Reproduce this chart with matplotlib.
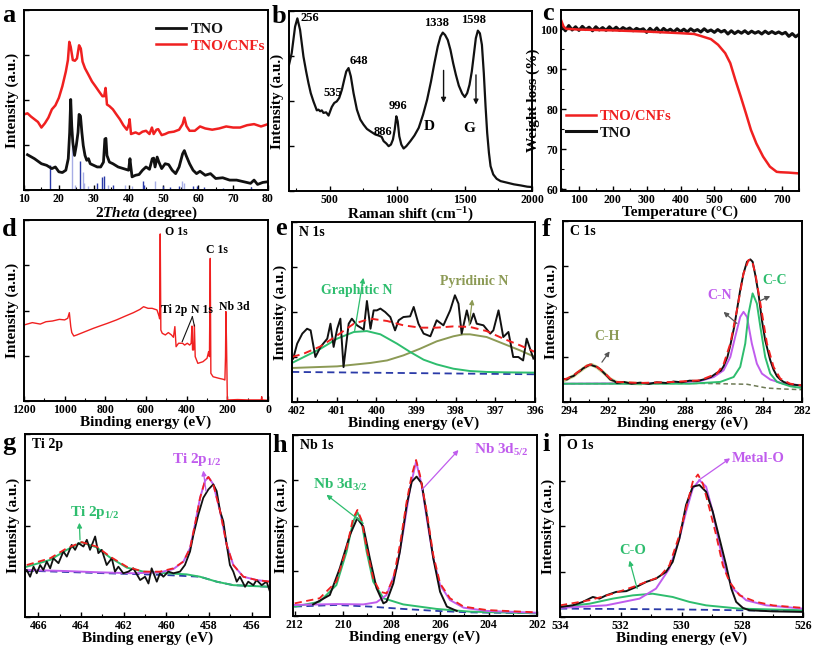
import numpy as np
import matplotlib
matplotlib.use('Agg')
import matplotlib.pyplot as plt
from matplotlib.ticker import MultipleLocator, NullFormatter

plt.rcParams['font.family'] = ['Liberation Serif', 'DejaVu Serif']
plt.rcParams['font.weight'] = 'bold'
plt.rcParams['axes.labelweight'] = 'bold'
plt.rcParams['mathtext.fontset'] = 'custom'
plt.rcParams['mathtext.rm'] = 'Liberation Serif:bold'
plt.rcParams['mathtext.it'] = 'Liberation Serif:italic:bold'
plt.rcParams['mathtext.bf'] = 'Liberation Serif:bold'

# ---------------- (a) XRD ----------------
xrd_tno_x = [11, 13, 15, 16.5, 18, 19, 20, 21, 22, 22.7, 23.1, 23.4, 23.7, 24.0, 24.5, 25.0, 25.5, 25.8, 26.2, 26.6,
             27.0, 27.5, 28, 28.5, 29, 30, 31, 32, 32.8, 33.2, 33.5, 33.8, 34.5, 35.5, 37, 38.5, 40, 40.4, 40.6, 41,
             42, 43, 44, 45, 46, 46.8, 47.2, 47.6, 48.2, 48.7, 49.5, 50.5, 51.5, 52.5, 53.5, 54.5, 55.5, 56, 56.5,
             57.5, 58.5, 59.5, 60.5, 62, 63.5, 65, 67, 69, 71, 73, 75, 76, 77, 78.5, 80]
xrd_tno_y = [19.6, 17.4, 14.6, 13.7, 11.9, 12.8, 10.1, 9.7, 11.0, 17.4, 32, 50.3, 35.6, 26.5, 19.2, 24.7, 32, 42, 41.1, 32,
             24.7, 19.2, 16.5, 17.4, 14.6, 13.7, 12.8, 12.8, 15.5, 28.3, 28.7, 19.2, 15.5, 14.6, 12.8, 11.9, 11, 17.4, 13.7, 7.3,
             8.2, 8.6, 11, 12.8, 11.5, 17.4, 17.7, 12.8, 18.3, 15.5, 11.9, 14.6, 14.1, 11, 9.1, 12.8, 20.1, 21.9, 19.2,
             14.6, 11, 9.1, 10.4, 8.2, 9.1, 6.4, 6.8, 5.5, 5.5, 4.6, 3.7, 5.5, 3.1, 4.2, 4.6]
xrd_cnf_x = [10, 11, 12, 13, 14, 15, 16, 17, 18, 19, 20, 21, 22, 22.6, 23.0, 23.4, 24.0, 24.6, 25.2, 25.8, 26.3, 26.8,
             27.5, 28.5, 29.5, 30.5, 31.5, 32.5, 33.0, 33.4, 33.8, 34.5, 35.5, 36.5, 37.5, 38.5, 39.5, 40.1, 40.3, 40.7,
             42, 43, 44, 45, 46, 46.7, 47.2, 48, 48.5, 49.5, 50.5, 51.5, 53, 54.5, 55.5, 56, 56.6, 57.5, 59, 60.5, 62,
             64, 66, 68, 70, 72, 74, 76, 78, 80]
xrd_cnf_y = [42, 42.6, 40.8, 39.3, 37.8, 34.7, 37.1, 40.2, 44.8, 47, 51.2, 57.6, 65.8, 72.2, 82.3, 79.5, 72.2, 71.8, 73.1,
             80.4, 78.6, 71.3, 67.6, 64, 60.3, 57.6, 54.8, 52.1, 52.1, 56.7, 47.5, 46.6, 44.8, 42, 39.3, 36, 33.5, 36.6,
             39.3, 31.1, 32, 31.1, 32.4, 32.9, 31.1, 34.7, 31.1, 33.5, 33.8, 30.5, 31.1, 32, 32.4, 33.5, 36.6, 40.2, 35.6,
             32.9, 32.9, 35.3, 34.2, 33.5, 34.2, 35.3, 34.7, 34.7, 36, 36.6, 35.3, 36.6]
ref_pos = [17.5, 23.9, 24.5, 26.1, 26.8, 27.3, 28.5, 31.0, 32.3, 32.9, 34.0, 35.5, 39.0, 41.0, 44.0, 44.5, 47.7, 50.0,
           52.0, 54.5, 55.3, 55.8, 58.5, 59.5, 61.5, 67.0, 75.0]
ref_h = [14, 26, 3, 16, 10, 4, 2, 4, 7, 8, 3, 3, 3, 2, 5, 3, 5, 2, 1.5, 2, 5, 4, 2, 2, 1.5, 1, 1.5]
ref_kind = ['b', 'l', 'l', 'b', 'l', 'l', 'l', 'b', 'b', 'b', 'l', 'b', 'l', 'l', 'b', 'b', 'l', 'b', 'b', 'b', 'l', 'l',
            'b', 'b', 'b', 'b', 'b']

# ---------------- (b) Raman ----------------
raman_x = [200, 220, 245, 262, 282, 307, 327, 344, 361, 381, 406, 418, 431, 443, 455, 475, 493, 505, 517, 535, 554, 572,
           592, 609, 624, 641, 658, 678, 703, 728, 752, 777, 802, 839, 864, 886, 901, 921, 938, 955, 970, 983, 995, 1005,
           1017, 1032, 1049, 1069, 1099, 1129, 1161, 1193, 1223, 1252, 1277, 1302, 1322, 1339, 1356, 1376, 1396, 1416,
           1436, 1458, 1483, 1502, 1520, 1537, 1554, 1569, 1584, 1599, 1614, 1629, 1643, 1656, 1668, 1681, 1693, 1713,
           1738, 1767, 1817, 1866, 1916, 1965, 2000]
raman_y = [70.1, 76.6, 91.3, 95.9, 89.5, 74.7, 66.4, 60, 54.4, 49.8, 44.8, 45.2, 44.3, 44.8, 43.4, 43.7, 41.9, 44.3, 46.7,
           48.9, 49.8, 51.7, 56.3, 61.8, 66.4, 68.3, 63.7, 54.4, 45.2, 39.7, 36.9, 34.5, 33.2, 31.4, 30.8, 30.1, 27.7, 26.4,
           24.9, 25.8, 28.6, 34.1, 41.5, 38.7, 30.4, 25.8, 23.6, 24.9, 27.7, 30.8, 35.1, 42.4, 50.7, 60.9, 71, 80.3, 85.8,
           88, 86.7, 83.9, 78.4, 71, 64.6, 58.5, 54.1, 52.2, 54.4, 59, 66.4, 75.6, 84.9, 89.1, 87.6, 81.2, 65.5, 47, 32.3,
           21.2, 13.8, 9.2, 6.8, 5.5, 4.6, 3.7, 3.1, 2.4, 2.2]

# ---------------- (c) TGA ----------------
tga_cnf_x = [47, 50, 55, 62, 100, 200, 300, 400, 440, 460, 490, 511, 532, 547, 562, 578, 593, 608, 624, 644, 664, 684,
             695, 720, 750]
tga_cnf_y = [102.3, 101.6, 100.6, 100.1, 99.9, 99.7, 99.4, 99.0, 98.8, 98.3, 97.5, 96.1, 94, 91.5, 87.3, 83.1, 79, 74.8,
             71.4, 68.1, 65.6, 64.3, 64.2, 64.1, 63.9]
tga_tno_x = list(range(50, 751, 10))
tga_tno_y = [100.8, 99.6, 100.9, 99.8, 100.6, 99.7, 100.7, 99.9, 100.5, 99.6, 100.6, 99.8, 100.4, 99.7, 100.6, 99.8,
             100.5, 99.7, 100.4, 99.9, 100.3, 99.6, 100.2, 99.8, 100.1, 99.2, 100.2, 99.4, 100.3, 99.3, 100.2, 99.5,
             100.0, 99.3, 100.1, 99.4, 100.0, 99.3, 100.1, 99.5, 99.9, 99.3, 100.1, 99.4, 99.8, 99.2, 99.9, 99.3, 99.7,
             98.8, 99.6, 98.9, 99.5, 99.0, 99.6, 98.9, 99.5, 99.0, 99.4, 98.8, 99.5, 98.9, 99.4, 98.9, 99.3, 98.8, 99.2,
             98.2, 98.9, 98.1, 98.7]

# ---------------- (d) XPS survey ----------------
surv_x = [1200, 1159, 1120, 1092, 1060, 1026, 1000, 985, 977, 970, 965, 955, 940, 900, 860, 828, 790, 745, 700, 662, 630,
          612, 590, 570, 546, 535, 533, 530, 527, 520, 505, 490, 475, 465, 458, 452, 440, 420, 410, 397, 385, 378, 374,
          371, 366, 362, 358, 345, 320, 300, 292, 288, 284, 281, 270, 240, 220, 212, 209, 207, 204, 202, 200, 190, 150,
          100, 50, 33, 31, 29, 0]
surv_y = [42, 43.3, 42.5, 43.8, 44.2, 45.1, 44.8, 45.7, 48.8, 41.1, 37.8, 35.9, 36.5, 38.3, 40.1, 41.4, 42.9, 44.8, 47,
          48.8, 50.6, 52.1, 51.2, 51.2, 50.3, 46.6, 45.4, 92.3, 39.2, 37.4, 36.5, 37.8, 36.5, 35.2, 41.1, 30, 31.9, 31.9,
          30.9, 31.9, 30.9, 31.9, 41.4, 28.2, 28.2, 42, 24.5, 20.8, 21.7, 23.6, 27.3, 24.5, 78.8, 15.3, 13.4, 12.5, 12,
          11.6, 24.5, 49.4, 31.9, 17, 0.6, 0.6, 0.8, 0.6, 0.6, 0.6, 2.4, 0.6, 0.4]

# ---------------- (e) N 1s ----------------
n_raw_x = [402.10, 402.00, 401.87, 401.75, 401.66, 401.54, 401.41, 401.24, 401.16, 401.08, 400.99, 400.91, 400.83, 400.70,
           400.62, 400.49, 400.32, 400.24, 400.15, 400.07, 399.99, 399.90, 399.78, 399.65, 399.53, 399.44, 399.32, 399.15,
           399.06, 398.94, 398.81, 398.64, 398.48, 398.31, 398.14, 398.02, 397.93, 397.85, 397.72, 397.64, 397.55, 397.47,
           397.30, 397.13, 397.05, 396.92, 396.80, 396.67, 396.55, 396.42, 396.30, 396.21, 396.04]
n_raw_y = [24.1, 32.4, 38, 40.7, 39.8, 25, 30.6, 35.2, 43.5, 30.6, 40.7, 46.3, 19.4, 43.5, 46.3, 42.6, 40.2, 56.1, 40.7,
           50.9, 50.9, 51.9, 50, 47.2, 39.8, 45.4, 47.2, 47.6, 52.8, 43.5, 38, 36.5, 45.4, 42.6, 50.9, 59.3, 54.6, 38, 50.9,
           43.5, 49.1, 43.5, 42.6, 38, 39.8, 50.9, 36.1, 38.9, 25, 25, 23.1, 35.2, 24.1]
n_gra_x = [402.13, 401.83, 401.41, 400.99, 400.57, 400.24, 399.90, 399.48, 399.15, 398.81, 398.48, 398.06, 397.64, 397.22,
           396.80, 396.00]
n_gra_y = [21.7, 25, 29.6, 35.2, 38.9, 39.4, 37.6, 32.4, 27.8, 23.5, 20.9, 18.5, 17.2, 16.7, 16.5, 16.3]
n_pyr_x = [402.13, 400.99, 400.15, 399.73, 399.32, 398.90, 398.48, 398.06, 397.81, 397.64, 397.22, 396.80, 396.38, 396.00]
n_pyr_y = [18.9, 19.8, 21.7, 23.1, 25.9, 29.6, 33.7, 36.5, 37.6, 37.6, 36.1, 32.4, 28.7, 25]
n_fit_x = [402.13, 401.83, 401.41, 400.99, 400.57, 400.15, 399.73, 399.32, 398.90, 398.48, 398.06, 397.64, 397.22, 396.80,
           396.38, 396.00]
n_fit_y = [25, 26.9, 30.9, 37, 43.5, 46.3, 45, 42.6, 41.3, 41.3, 42, 41.7, 39.4, 35.2, 31.5, 27.8]
n_bg_x = [402.13, 396.0]
n_bg_y = [16.7, 15.4]

# ---------------- (f) C 1s ----------------
c_fit_x = [294.34, 294.14, 293.79, 293.45, 293.10, 292.85, 292.59, 292.24, 291.90, 291.56, 290.35, 288.63, 287.25, 286.91,
           286.39, 286.05, 285.70, 285.36, 285.02, 284.76, 284.59, 284.41, 284.15, 283.81, 283.47, 283.12, 282.61, 282.0]
c_fit_y = [12.4, 12.9, 14.8, 17.5, 20.1, 20.8, 19.4, 16.6, 12.9, 11.1, 10.5, 11.1, 12, 13.5, 15.7, 20.8, 32.3, 50.7, 71,
           78.4, 78.4, 71, 54.4, 32.3, 19.4, 12.9, 10.1, 9.2]
c_raw_x = [294.34, 294.14, 293.95, 293.79, 293.62, 293.45, 293.30, 293.10, 292.95, 292.80, 292.59, 292.40, 292.24, 292.05,
           291.90, 291.70, 291.56, 291.2, 290.8, 290.35, 289.9, 289.5, 289.0, 288.63, 288.2, 287.8, 287.4, 287.0, 286.7,
           286.4, 286.2, 286.05, 285.85, 285.70, 285.5, 285.36, 285.19, 285.02, 284.84, 284.67, 284.55, 284.41, 284.25,
           284.07, 283.90, 283.64, 283.47, 283.29, 283.12, 282.95, 282.61, 282.3, 282.0]
c_raw_y = [12.9, 12.4, 13.8, 14.4, 16.1, 17.2, 18.6, 19.7, 20.7, 20.1, 19.4, 17.9, 16.2, 14.2, 12.4, 11.6, 10.5, 11.1,
           10.1, 10.7, 10, 10.9, 10.5, 11.3, 10.9, 11.8, 11.6, 12.7, 13.8, 16.1, 17.2, 19.7, 24.9, 31.4, 41.5, 50.7, 61.8,
           71, 77.5, 78.8, 77.5, 70.1, 60, 45.2, 34.1, 23.1, 17.9, 14.2, 12.4, 11.1, 9.8, 9.4, 9.0]
c_cn_x = [294.34, 288.63, 287.25, 286.56, 286.05, 285.70, 285.45, 285.19, 285.02, 284.84, 284.59, 284.33, 284.07, 283.64,
          282.95, 282.0]
c_cn_y = [10.1, 10.5, 11.6, 13.8, 17.5, 24.9, 36, 47, 49.8, 47, 32.3, 21.2, 15.7, 12.4, 10.1, 9.2]
c_cc_x = [294.34, 287.77, 286.22, 285.53, 285.19, 284.93, 284.76, 284.55, 284.33, 284.15, 283.90, 283.64, 283.29, 282.61,
          282.0]
c_cc_y = [10.1, 10.1, 11.1, 13.8, 19.4, 32.3, 48.9, 60, 54.4, 41.5, 24.9, 15.7, 11.1, 8.7, 7.7]
c_ch_x = [294.34, 293.79, 293.45, 293.10, 292.85, 292.59, 292.24, 291.90, 291.56, 290.35]
c_ch_y = [11.6, 14.4, 17.2, 19.9, 20.6, 19.2, 16.2, 12.7, 10.8, 10.1]
c_bg_x = [294.34, 287.25, 286.22, 284.84, 283.81, 283.0, 282.0]
c_bg_y = [10.1, 10.3, 10.1, 9.8, 7.7, 7.2, 6.8]

# ---------------- (g) Ti 2p ----------------
ti_fit_x = [466.55, 465.45, 464.67, 463.97, 463.27, 462.64, 461.86, 461.08, 460.30, 459.67, 459.20, 458.89, 458.66, 458.42,
            458.19, 458.03, 457.80, 457.48, 457.17, 456.86, 456.39, 455.77, 455.14]
ti_fit_y = [28.4, 32.1, 37.6, 40.9, 38.5, 33, 27.5, 24.8, 24.8, 26.6, 30.3, 37.6, 50.5, 65.1, 74.3, 76.5, 72.5, 57.8, 39.4,
            28.4, 22, 20.2, 19.3]
ti_g_x = [466.55, 465.45, 464.67, 463.97, 463.27, 462.64, 461.86, 461.08, 459.98, 459.05, 458.42, 457.64, 456.86, 455.14]
ti_g_y = [27.5, 31.2, 36.7, 40.9, 38, 32.5, 27, 24.8, 23.9, 23.3, 22, 19.3, 17.4, 16.5]
ti_p_x = [466.55, 464.67, 463.11, 461.55, 460.30, 459.67, 459.20, 458.89, 458.66, 458.42, 458.19, 458.03, 457.80, 457.48,
          457.17, 456.86, 456.39, 455.77, 455.14]
ti_p_y = [25.7, 25.1, 24.4, 23.9, 24.4, 26.2, 30.3, 37.6, 50.5, 65.1, 74.3, 76.5, 72.5, 57.8, 39.4, 28.4, 22, 20.2, 19.3]
ti_bg_x = [466.55, 463.11, 459.98, 458.42, 457.64, 456.86, 455.14]
ti_bg_y = [25.3, 24, 22.9, 22, 19.3, 17.4, 16.5]
ti_raw_x = [466.55, 466.39, 466.23, 466.08, 465.92, 465.77, 465.61, 465.45, 465.30, 465.06, 464.83, 464.67, 464.44, 464.28,
            464.13, 463.89, 463.73, 463.58, 463.34, 463.19, 463.03, 462.80, 462.56, 462.41, 462.25, 462.02, 461.78, 461.55,
            461.23, 461.00, 460.84, 460.69, 460.45, 460.30, 460.14, 459.91, 459.67, 459.36, 459.13, 458.89, 458.73, 458.50,
            458.27, 458.03, 457.80, 457.64, 457.48, 457.33, 457.17, 457.02, 456.86, 456.70, 456.55, 456.31, 456.16, 455.92,
            455.77, 455.53, 455.30, 455.14]
ti_raw_y = [25.7, 22, 27.5, 23.9, 28.4, 25.7, 30.3, 26.6, 32.1, 29.4, 35.8, 33, 39.4, 36.7, 40.4, 38.5, 42.2, 36.7, 44,
            34.9, 36.7, 28.4, 32.1, 24.8, 27.5, 23.9, 24.8, 26.6, 20.2, 22, 18.3, 26.6, 19.3, 23.9, 22, 24.8, 23.9, 24.8,
            28.4, 35.8, 45, 56, 65.1, 69.7, 72.5, 68.8, 57.8, 52.3, 39.4, 28.4, 24.8, 19.3, 22, 16.5, 19.3, 17.4, 20.2,
            17.4, 19.3, 13.8]

# ---------------- (h) Nb 3d ----------------
nb_bg_x = [212, 210.28, 208.90, 207.52, 206.14, 204.76, 202]
nb_bg_y = [5.2, 6.1, 5.2, 3.9, 2.8, 2, 1.5]
nb_p_x = [212, 210.97, 210.28, 209.17, 208.62, 208.21, 207.79, 207.52, 207.24, 206.99, 206.76, 206.55, 206.28, 206.0,
          205.59, 205.03, 204.07, 202]
nb_p_y = [6.1, 6.4, 6.6, 6.4, 7.6, 11.6, 26.3, 46.6, 70.5, 85.3, 72.4, 54, 31.9, 17.1, 8.8, 4.6, 2.8, 1.8]
nb_g_x = [212, 210.97, 210.28, 209.86, 209.59, 209.41, 209.24, 209.03, 208.76, 208.34, 207.52, 206.14, 204.76, 202]
nb_g_y = [5.2, 7.9, 17.1, 35.5, 52.1, 57.3, 52.1, 35.5, 19, 9.8, 6.4, 3.9, 2.4, 1.5]
nb_fit_x = [212, 210.97, 210.28, 209.86, 209.59, 209.41, 209.24, 209.03, 208.76, 208.48, 208.21, 207.93, 207.66, 207.38,
            207.17, 206.99, 206.83, 206.55, 206.28, 206.0, 205.59, 205.03, 204.07, 202]
nb_fit_y = [7, 9.8, 19, 37.4, 54, 58.6, 53, 37.4, 20.8, 13.4, 12.5, 20.8, 39.2, 63.2, 77.9, 86.2, 77.9, 57.6, 33.7, 18,
            9.8, 5.2, 3.3, 2]
nb_raw_x = [211.24, 210.55, 210.14, 209.72, 209.42, 209.17, 208.90, 208.62, 208.34, 208.21, 207.93, 207.66, 207.38, 207.17,
            206.97, 206.76, 206.55, 206.28, 206.0, 205.72, 205.31]
nb_raw_y = [6.4, 11.6, 26.3, 44.8, 54, 49.4, 31.9, 15.3, 7, 7.9, 18, 35.5, 61.3, 74.2, 77, 73.3, 55.8, 31.9, 13.4, 5.2,
            2.8]

# ---------------- (i) O 1s ----------------
o_bg_x = [534, 530.29, 528.09, 526]
o_bg_y = [4.6, 4.2, 3.7, 3.3]
o_g_x = [534, 533.03, 532.26, 531.60, 530.95, 530.29, 529.74, 529.19, 528.09, 526]
o_g_y = [5.5, 7.3, 10.1, 11.9, 12.8, 11, 8.3, 6.4, 4.6, 3.7]
o_p_x = [534, 532.48, 531.38, 530.84, 530.40, 530.07, 529.85, 529.63, 529.41, 529.19, 528.97, 528.75, 528.53, 528.31,
         527.87, 527.21, 526]
o_p_y = [5, 6.4, 10.1, 15.6, 26.6, 43.1, 57.8, 70.6, 75.2, 71.6, 57.8, 39.4, 24.8, 15.6, 9.2, 6.4, 4.6]
o_fit_x = [534, 533.03, 532.26, 531.60, 531.16, 530.73, 530.40, 530.07, 529.85, 529.63, 529.46, 529.30, 529.08, 528.86,
           528.64, 528.42, 528.09, 527.54, 526.99, 526]
o_fit_y = [6.4, 9.2, 12.8, 16.5, 19.3, 22, 28.4, 45, 59.6, 74.3, 78.3, 73.4, 59.6, 45, 28.4, 19.3, 11.9, 8.3, 6.4, 5]
o_raw_x = [534, 533.58, 533.25, 532.92, 532.70, 532.48, 532.15, 531.82, 531.49, 531.16, 530.84, 530.51, 530.29, 530.07,
           529.85, 529.63, 529.41, 529.19, 528.97, 528.75, 528.53, 528.36, 528.20, 527.98, 527.76, 526.99, 526]
o_raw_y = [5.5, 6.4, 8.3, 11, 10.1, 11.9, 13.8, 14.2, 16.5, 19.3, 21.1, 24.8, 30.3, 43.1, 61.5, 71.6, 72.5, 68.8, 57.8,
           43.1, 28.4, 15.6, 8.3, 5, 3.7, 3.1, 2.8]

# ---------------- colours ----------------
BLACK = '#111111'
RED = '#f02020'
GREEN = '#2ebd6e'
OLIVE = '#8c9a55'
PURPLE = '#c05ced'
BLUE = '#2a3aa8'
LBLUE = '#a8aee6'

W, H = 813, 647
fig = plt.figure(figsize=(W / 100, H / 100), dpi=100)

TICK_FS = 8.5
LAB_FS = 11


def add_ax(l, r, t, b):
    return fig.add_axes([l / W, 1 - b / H, (r - l) / W, (b - t) / H])


def style(ax, xmaj, xmin, xlabel, ylabel, ylabels=False, ymaj=25):
    ax.tick_params(direction='in', which='both', top=False, right=False, labelsize=TICK_FS, pad=2)
    ax.tick_params(which='major', length=3.5, width=1.0)
    ax.tick_params(which='minor', length=2.0, width=0.8)
    for s in ax.spines.values():
        s.set_linewidth(1.4)
    ax.xaxis.set_major_locator(MultipleLocator(xmaj))
    ax.xaxis.set_minor_locator(MultipleLocator(xmin))
    if not ylabels:
        ax.yaxis.set_major_locator(MultipleLocator(ymaj))
        ax.yaxis.set_major_formatter(NullFormatter())
    ax.set_xlabel(xlabel, fontsize=LAB_FS, labelpad=0)
    ax.set_ylabel(ylabel, fontsize=LAB_FS, labelpad=1.5)


def letter(x, y, s):
    fig.text(x / W, 1 - y / H, s, fontsize=19, fontweight='bold', ha='left', va='baseline')


def arrow(ax, tail, tip, color, lw=0.9):
    ax.annotate('', xy=tip, xytext=tail,
                arrowprops=dict(arrowstyle='-|>', color=color, lw=lw, mutation_scale=7, shrinkA=0, shrinkB=0))


INT = 'Intensity (a.u.)'
BE = 'Binding energy (eV)'

# (a)
ax = add_ax(24, 268, 10, 190)
for px, ph, pk in zip(ref_pos, ref_h, ref_kind):
    ax.vlines(px, 0, ph, color=BLUE if pk == 'b' else LBLUE, lw=1.0)
ax.plot(xrd_tno_x, xrd_tno_y, color=BLACK, lw=2.0, label='TNO')
ax.plot(xrd_cnf_x, xrd_cnf_y, color=RED, lw=1.8, label='TNO/CNFs')
ax.set_xlim(10, 80)
ax.set_ylim(0, 100)
style(ax, 10, 5, r'$\mathit{2Theta}$ (degree)', INT)
ax.legend(loc='upper left', bbox_to_anchor=(0.49, 1.0), frameon=False, fontsize=11, handlelength=2.0,
          labelspacing=0.2, labelcolor='linecolor', borderpad=0.3, handletextpad=0.3)
letter(2, 22, 'a')

# (b)
ax = add_ax(289, 532, 11, 191)
ax.plot(raman_x, raman_y, color=BLACK, lw=1.6)
ax.set_xlim(200, 2000)
ax.set_ylim(0, 100)
style(ax, 500, 250, 'Raman shift (cm$^{-1}$)', INT)
for tx, ty, s in [(282, 96, '256'), (646, 72, '648'), (455, 54.5, '535'), (827, 33, '886'), (938, 47, '996'),
                  (1198, 36, 'D'), (1198, 93.5, '1338'), (1478, 95, '1598'), (1490, 35, 'G')]:
    ax.text(tx, ty, s, fontsize=9 if len(s) > 1 else 11, ha='left', va='center')
arrow(ax, (1345, 67), (1345, 49), BLACK, lw=1.0)
arrow(ax, (1585, 64.5), (1585, 48), BLACK, lw=1.0)
letter(272, 23, 'b')

# (c)
ax = add_ax(561, 799, 10, 191)
ax.plot(tga_tno_x, tga_tno_y, color=BLACK, lw=2.2, label='TNO')
ax.plot(tga_cnf_x, tga_cnf_y, color=RED, lw=1.8, label='TNO/CNFs')
ax.set_xlim(47, 750)
ax.set_ylim(59.5, 104.8)
style(ax, 100, 50, 'Temperature (\u00b0C)', 'Weight loss (%)', ylabels=True)
ax.yaxis.set_major_locator(MultipleLocator(10))
ax.yaxis.set_minor_locator(MultipleLocator(5))
ax.yaxis.labelpad = 0.5
h, l = ax.get_legend_handles_labels()
ax.legend(h[::-1], l[::-1], loc='center left', bbox_to_anchor=(-0.02, 0.365), frameon=False, fontsize=10.5,
          handlelength=2.0, labelspacing=0.2, labelcolor=[RED, BLACK], borderpad=0.2, handletextpad=0.3)
letter(542, 20, 'c')

# (d)
ax = add_ax(24, 268, 220, 401)
ax.plot(surv_x, surv_y, color=RED, lw=1.0)
ax.set_xlim(1200, 0)
ax.set_ylim(0, 100)
style(ax, 200, 100, BE, INT)
for tx, ty, s in [(505, 93.5, 'O 1s'), (306, 83.4, 'C 1s'), (528, 50.3, 'Ti 2p'), (377, 50.3, 'N 1s'),
                  (240, 52, 'Nb 3d')]:
    ax.text(tx, ty, s, fontsize=8.5, ha='left', va='center')
ax.plot([372, 422], [46.5, 32.8], color=BLACK, lw=0.8)
ax.plot([372, 362], [46.5, 41.5], color=BLACK, lw=0.8)
letter(2, 236, 'd')

# (e)
ax = add_ax(292, 535, 222, 402)
ax.plot(n_bg_x, n_bg_y, color=BLUE, lw=1.3, ls=(0, (4, 2.5)))
ax.plot(n_pyr_x, n_pyr_y, color=OLIVE, lw=1.4)
ax.plot(n_gra_x, n_gra_y, color=GREEN, lw=1.4)
ax.plot(n_raw_x, n_raw_y, color=BLACK, lw=1.4)
ax.plot(n_fit_x, n_fit_y, color=RED, lw=1.4, ls=(0, (4, 2.5)))
ax.set_xlim(402.13, 396.0)
ax.set_ylim(0, 100)
style(ax, 1, 0.5, BE, INT)
ax.text(0.03, 0.94, 'N 1s', transform=ax.transAxes, fontsize=10, va='center')
ax.text(401.41, 62, 'Graphitic N', color=GREEN, fontsize=10, va='center')
ax.text(398.39, 66.7, 'Pyridinic N', color=OLIVE, fontsize=10, va='center')
arrow(ax, (400.55, 39.5), (400.33, 69), GREEN)
arrow(ax, (397.66, 42.6), (397.58, 57), OLIVE)
letter(275, 235, 'e')

# (f)
ax = add_ax(563, 802, 221, 402)
ax.plot(c_bg_x, c_bg_y, color='#6e7a55', lw=1.1, ls=(0, (3, 2)))
ax.plot(c_ch_x, c_ch_y, color='#c8cc80', lw=2.5, alpha=0.8)
ax.plot(c_cn_x, c_cn_y, color=PURPLE, lw=1.4)
ax.plot(c_cc_x, c_cc_y, color=GREEN, lw=1.4)
ax.plot(c_raw_x, c_raw_y, color=BLACK, lw=1.4)
ax.plot(c_fit_x, c_fit_y, color=RED, lw=1.4, ls=(0, (4, 2.5)))
ax.set_xlim(294.34, 282.0)
ax.set_ylim(0, 100)
style(ax, 2, 1, BE, INT)
ax.text(0.03, 0.94, 'C 1s', transform=ax.transAxes, fontsize=10, va='center')
ax.text(292.73, 36, 'C-H', color=OLIVE, fontsize=10, va='center')
ax.text(286.91, 59, 'C-N', color=PURPLE, fontsize=10, va='center')
ax.text(284.07, 67.3, 'C-C', color=GREEN, fontsize=10, va='center')
arrow(ax, (292.33, 22), (291.93, 28), '#555555')
arrow(ax, (285.36, 43.4), (286.05, 49.8), '#555555')
arrow(ax, (284.15, 56), (283.64, 58.5), '#555555')
letter(542, 236, 'f')

# (g)
ax = add_ax(25, 270, 434, 617)
ax.plot(ti_bg_x, ti_bg_y, color=BLUE, lw=1.3, ls=(0, (4, 2.5)))
ax.plot(ti_g_x, ti_g_y, color=GREEN, lw=1.4)
ax.plot(ti_p_x, ti_p_y, color=PURPLE, lw=1.4)
ax.plot(ti_raw_x, ti_raw_y, color=BLACK, lw=1.3)
ax.plot(ti_fit_x, ti_fit_y, color=RED, lw=1.3, ls=(0, (4, 2.5)))
ax.set_xlim(466.63, 455.14)
ax.set_ylim(0, 100)
style(ax, 2, 1, BE, INT)
ax.text(0.03, 0.94, 'Ti 2p', transform=ax.transAxes, fontsize=10, va='center')
ax.text(464.52, 57, 'Ti 2p$_{1/2}$', color=GREEN, fontsize=11, va='center')
ax.text(459.75, 86.2, 'Ti 2p$_{1/2}$', color=PURPLE, fontsize=11, va='center')
arrow(ax, (464.05, 42.2), (464.08, 51.5), GREEN)
arrow(ax, (458.14, 68.8), (458.27, 80), PURPLE)
letter(2, 450, 'g')

# (h)
ax = add_ax(293, 537, 435, 616)
ax.plot(nb_bg_x, nb_bg_y, color=BLUE, lw=1.3, ls=(0, (4, 2.5)))
ax.plot(nb_g_x, nb_g_y, color=GREEN, lw=1.4)
ax.plot(nb_p_x, nb_p_y, color=PURPLE, lw=1.4)
ax.plot(nb_raw_x, nb_raw_y, color=BLACK, lw=1.4)
ax.plot(nb_fit_x, nb_fit_y, color=RED, lw=1.3, ls=(0, (4, 2.5)))
ax.set_xlim(212.07, 202)
ax.set_ylim(0, 100)
style(ax, 2, 1, BE, INT)
ax.text(0.03, 0.94, 'Nb 1s', transform=ax.transAxes, fontsize=10, va='center')
ax.text(211.24, 72.4, 'Nb 3d$_{3/2}$', color=GREEN, fontsize=11, va='center')
ax.text(204.62, 91.7, 'Nb 3d$_{5/2}$', color=PURPLE, fontsize=11, va='center')
arrow(ax, (209.17, 51.2), (210.69, 67), GREEN)
arrow(ax, (206.76, 69.6), (205.24, 91.7), PURPLE)
letter(272, 452, 'h')

# (i)
ax = add_ax(560, 803, 435, 617)
ax.plot(o_bg_x, o_bg_y, color=BLUE, lw=1.3, ls=(0, (4, 2.5)))
ax.plot(o_g_x, o_g_y, color=GREEN, lw=1.4)
ax.plot(o_p_x, o_p_y, color=PURPLE, lw=1.4)
ax.plot(o_raw_x, o_raw_y, color=BLACK, lw=1.4)
ax.plot(o_fit_x, o_fit_y, color=RED, lw=1.3, ls=(0, (4, 2.5)))
ax.set_xlim(534, 526)
ax.set_ylim(0, 100)
style(ax, 2, 1, BE, INT)
ax.text(0.03, 0.94, 'O 1s', transform=ax.transAxes, fontsize=10, va='center')
ax.text(528.36, 87.2, 'Metal-O', color=PURPLE, fontsize=10.5, va='center')
ax.text(532.04, 36.7, 'C-O', color=GREEN, fontsize=10.5, va='center')
arrow(ax, (529.43, 75.2), (528.40, 87.2), PURPLE)
arrow(ax, (531.46, 15.6), (531.71, 31), GREEN)
letter(542, 451, 'i')

fig.savefig('out.png', dpi=100)
